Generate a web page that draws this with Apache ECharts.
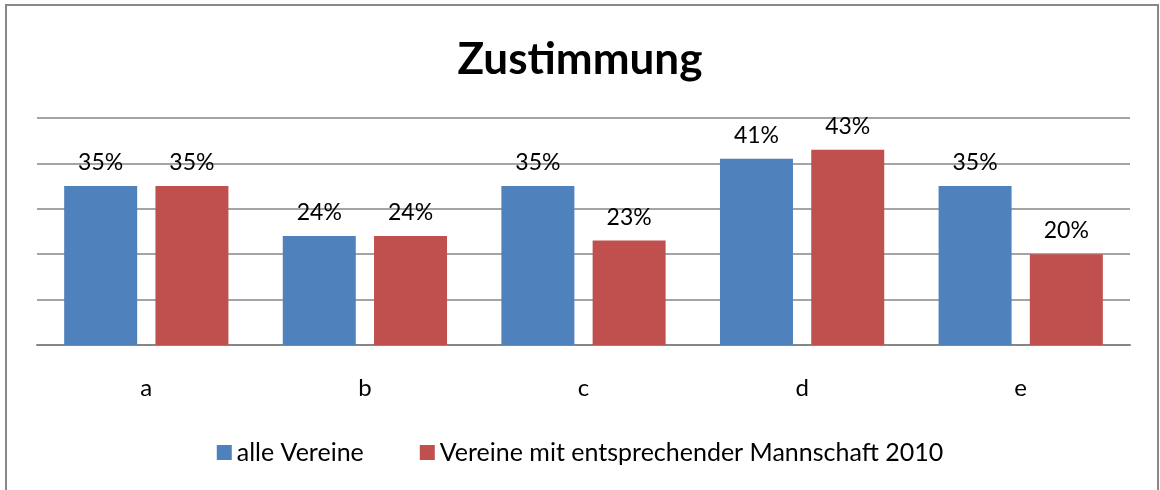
<!DOCTYPE html>
<html>
<head>
<meta charset="utf-8">
<script src="https://cdn.jsdelivr.net/npm/echarts@6/dist/echarts.min.js"></script>
<style>
  html, body { margin: 0; padding: 0; background: #fff; }
  #chart { width: 1160px; height: 490px; }
</style>
</head>
<body>
<div id="chart"></div>
<script>
const categories = ["a", "b", "c", "d", "e"];
const seriesNames = ["alle Vereine", "Vereine mit entsprechender Mannschaft 2010"];
const alleVereine = [35, 24, 35, 41, 35];
const mitMannschaft = [35, 24, 23, 43, 20];

const FONT = "Lato, 'Open Sans', sans-serif";
const BLUE = "#4F81BD";
const RED = "#C0504D";
const GRID = "#868686";

const chart = echarts.init(document.getElementById("chart"), null, { renderer: "canvas" });

function barSeries(name, data, color) {
  return {
    name,
    type: "bar",
    data,
    barWidth: 73,
    barGap: "25%",
    itemStyle: { color },
    label: {
      show: true,
      position: "top",
      distance: 12,
      formatter: "{c}%",
      color: "#000",
      fontSize: 23,
      fontFamily: FONT,
    },
  };
}

chart.setOption({
  backgroundColor: "#fff",
  animation: false,
  title: {
    text: "Zustimmung",
    left: "center",
    top: 33,
    textStyle: { color: "#000", fontSize: 44, fontWeight: "bold", fontFamily: FONT },
  },
  graphic: [{
    type: "rect",
    shape: { x: 6, y: 5, width: 1152, height: 500 },
    style: { fill: "none", stroke: "#888", lineWidth: 2 },
    silent: true,
  }],
  legend: {
    bottom: 20,
    left: "center",
    itemWidth: 15,
    itemHeight: 15,
    itemGap: 56,
    icon: "rect",
    textStyle: { color: "#000", fontSize: 25, fontFamily: FONT },
    data: seriesNames,
  },
  grid: { left: 37, right: 30, top: 118, bottom: 145 },
  xAxis: {
    type: "category",
    data: categories,
    axisLine: { lineStyle: { color: GRID, width: 2 } },
    axisTick: { show: false },
    axisLabel: { color: "#000", fontSize: 24, fontFamily: FONT, margin: 31 },
  },
  yAxis: {
    type: "value",
    min: 0,
    max: 50,
    interval: 10,
    axisLine: { show: false },
    axisTick: { show: false },
    axisLabel: { show: false },
    splitLine: { lineStyle: { color: GRID, width: 1.5 } },
  },
  series: [
    barSeries(seriesNames[0], alleVereine, BLUE),
    barSeries(seriesNames[1], mitMannschaft, RED),
  ],
});
</script>
</body>
</html>
